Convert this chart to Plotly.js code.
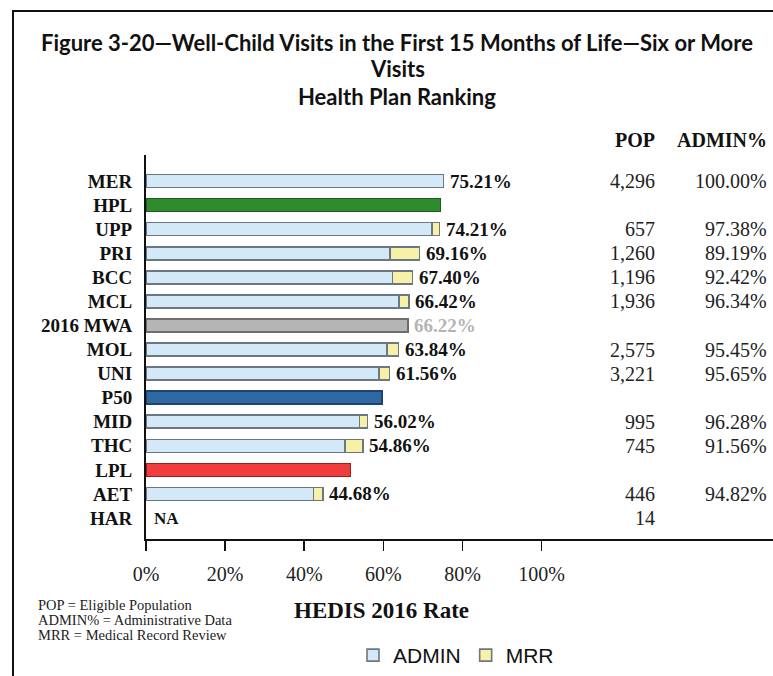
<!DOCTYPE html>
<html>
<head>
<meta charset="utf-8">
<script src="https://cdn.plot.ly/plotly-3.0.1.min.js"></script>
<style>
  html, body { margin: 0; padding: 0; background: #ffffff; }
  #chart { width: 773px; height: 676px; }
</style>
</head>
<body>
<div id="chart"></div>
<script>
// ---------- data ----------
const categories = ['MER','HPL','UPP','PRI','BCC','MCL','2016 MWA','MOL','UNI','P50','MID','THC','LPL','AET','HAR'];

const planCats   = ['MER','UPP','PRI','BCC','MCL','MOL','UNI','MID','THC','AET'];
const planRates  = [75.21, 74.21, 69.16, 67.40, 66.42, 63.84, 61.56, 56.02, 54.86, 44.68];
const adminPart  = [75.21, 72.27, 61.68, 62.29, 63.99, 60.94, 58.88, 53.94, 50.23, 42.37];
const mrrPart    = [0.00,  1.94,  7.48,  5.11,  2.43,  2.90,  2.68,  2.08,  4.63,  2.31];
const rateLabels = ['75.21%','74.21%','69.16%','67.40%','66.42%','63.84%','61.56%','56.02%','54.86%','44.68%'];

const benchCats  = ['HPL','2016 MWA','P50','LPL'];
const benchVals  = [74.45, 66.22, 59.70, 51.70];
const mwaLabel   = '66.22%';

const naCats     = ['HAR'];

const popCats    = ['MER','UPP','PRI','BCC','MCL','MOL','UNI','MID','THC','AET','HAR'];
const popVals    = ['4,296','657','1,260','1,196','1,936','2,575','3,221','995','745','446','14'];
const adminPct   = ['100.00%','97.38%','89.19%','92.42%','96.34%','95.45%','95.65%','96.28%','91.56%','94.82%',''];

const xTickVals  = [0, 20, 40, 60, 80, 100];
const xTickText  = ['0%','20%','40%','60%','80%','100%'];

const titleLines = ['Figure 3-20\u2014Well-Child Visits in the First 15 Months of Life\u2014Six or More', 'Visits', 'Health Plan Ranking'];
const footnotes  = ['POP = Eligible Population', 'ADMIN% = Administrative Data', 'MRR = Medical Record Review'];
const axisTitle  = 'HEDIS 2016 Rate';

// ---------- styles / geometry ----------
const W = 773, H = 676;
const L = 146, T = 155, B = 539;           // plot area in pixels
const plotW = W - L, plotH = B - T;
const px = x => (x - L) / plotW;            // pixel -> paper x
const py = y => (B - y) / plotH;            // pixel -> paper y

const SERIF = 'Liberation Serif, Times New Roman, serif';
const SANS = 'Liberation Sans, Arial, sans-serif';
const TITLEF = 'Lato, Open Sans, sans-serif';

const benchColors = ['#2e8b2e', '#b5b5b5', '#2f69a3', '#f03c3c'];
const benchLines  = ['#1d5a1d', '#6e6e6e', '#1d4470', '#9a1f1f'];

const traces = [
  {
    type: 'bar', orientation: 'h', name: 'ADMIN',
    y: planCats, x: adminPart,
    width: 0.54,
    marker: { color: '#d3e9f8', line: { color: '#6c7783', width: 1.6 } },
    hoverinfo: 'skip'
  },
  {
    type: 'bar', orientation: 'h', name: 'MRR',
    y: planCats, x: mrrPart,
    width: 0.54,
    marker: { color: '#f6f1a6', line: { color: '#6c7783', width: 1.6 } },
    hoverinfo: 'skip'
  },
  {
    type: 'bar', orientation: 'h', name: 'Benchmarks', showlegend: false,
    y: benchCats, x: benchVals,
    width: 0.54,
    marker: { color: benchColors, line: { color: benchLines, width: 1.6 } },
    hoverinfo: 'skip'
  }
];

const annotations = [];

// title
const titleY = [43, 68, 97];
titleLines.forEach((t, i) => {
  annotations.push({
    xref: 'paper', yref: 'paper', x: px(397), y: py(titleY[i]),
    xanchor: 'center', yanchor: 'middle', showarrow: false,
    text: t, font: { family: TITLEF, size: 22, weight: 'bold', color: '#111' }
  });
});

// column headers
annotations.push({
  xref: 'paper', yref: 'paper', x: px(657), y: py(140), xanchor: 'right', yanchor: 'middle',
  showarrow: false, text: 'POP', font: { family: SERIF, size: 20, weight: 'bold', color: '#111' }
});
annotations.push({
  xref: 'paper', yref: 'paper', x: px(769), y: py(140), xanchor: 'right', yanchor: 'middle',
  showarrow: false, text: 'ADMIN%', font: { family: SERIF, size: 20, weight: 'bold', color: '#111' }
});

// POP and ADMIN% columns
popCats.forEach((c, i) => {
  annotations.push({
    xref: 'paper', yref: 'y', x: px(657), y: c, xanchor: 'right', yanchor: 'middle',
    showarrow: false, text: popVals[i], font: { family: SERIF, size: 20, color: '#222' }
  });
  if (adminPct[i]) {
    annotations.push({
      xref: 'paper', yref: 'y', x: px(769), y: c, xanchor: 'right', yanchor: 'middle',
      showarrow: false, text: adminPct[i], font: { family: SERIF, size: 20, color: '#222' }
    });
  }
});

// rate labels
planCats.forEach((c, i) => {
  annotations.push({
    xref: 'x', yref: 'y', x: planRates[i], y: c, xanchor: 'left', yanchor: 'middle', xshift: 4,
    showarrow: false, text: rateLabels[i], font: { family: SERIF, size: 19, weight: 'bold', color: '#111' }
  });
});
annotations.push({
  xref: 'x', yref: 'y', x: benchVals[1], y: benchCats[1], xanchor: 'left', yanchor: 'middle', xshift: 4,
  showarrow: false, text: mwaLabel, font: { family: SERIF, size: 19, weight: 'bold', color: '#b4b4b4' }
});
naCats.forEach(c => {
  annotations.push({
    xref: 'x', yref: 'y', x: 0, y: c, xanchor: 'left', yanchor: 'middle', xshift: 6,
    showarrow: false, text: 'NA', font: { family: SERIF, size: 17, weight: 'bold', color: '#111' }
  });
});

// axis title
annotations.push({
  xref: 'paper', yref: 'paper', x: px(381), y: py(610), xanchor: 'center', yanchor: 'middle',
  showarrow: false, text: axisTitle, font: { family: SERIF, size: 23, weight: 'bold', color: '#111' }
});

// footnotes
const footY = [604.5, 619.5, 634.5];
footnotes.forEach((t, i) => {
  annotations.push({
    xref: 'paper', yref: 'paper', x: px(37), y: py(footY[i]), xanchor: 'left', yanchor: 'middle',
    showarrow: false, align: 'left', text: t, borderpad: 0,
    font: { family: SERIF, size: 14.5, color: '#222' }
  });
});

const layout = {
  width: W, height: H,
  margin: { l: L, r: 0, t: T, b: H - B, pad: 0 },
  paper_bgcolor: '#ffffff', plot_bgcolor: '#ffffff',
  barmode: 'stack',
  showlegend: true,
  legend: {
    orientation: 'h', x: px(353), y: py(656), xanchor: 'left', yanchor: 'middle',
    font: { family: SANS, size: 21, color: '#111' },
    bgcolor: 'rgba(0,0,0,0)', itemwidth: 30, traceorder: 'normal',
    itemclick: false, itemdoubleclick: false
  },
  xaxis: {
    range: [0, 158.5], fixedrange: true,
    tickvals: xTickVals, ticktext: xTickText,
    ticks: 'outside', ticklen: 10, tickwidth: 1.5, tickcolor: '#111',
    showline: true, linecolor: '#111', linewidth: 2,
    showgrid: false, zeroline: false,
    tickfont: { family: SERIF, size: 20, color: '#222' },
    ticklabelstandoff: 6
  },
  yaxis: {
    type: 'category', categoryorder: 'array', categoryarray: categories,
    range: [14.87, -1.08], fixedrange: true,
    ticks: '', showline: true, linecolor: '#111', linewidth: 2,
    showgrid: false, zeroline: false,
    tickfont: { family: SERIF, size: 19, weight: 'bold', color: '#111' },
    ticklabelstandoff: 8
  },
  shapes: [
    {
      type: 'rect', xref: 'paper', yref: 'paper',
      x0: px(13), x1: px(800), y0: py(720), y1: py(11),
      line: { color: '#111', width: 2 }, fillcolor: 'rgba(0,0,0,0)', layer: 'above'
    }
  ],
  annotations: annotations
};

Plotly.newPlot('chart', traces, layout, { displayModeBar: false, staticPlot: true });
</script>
</body>
</html>
